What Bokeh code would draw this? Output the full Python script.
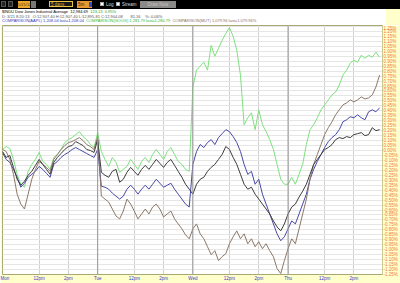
from bokeh.plotting import figure
from bokeh.models import ColumnDataSource, Range1d, FixedTicker, PrintfTickFormatter, Span, Div
from bokeh.layouts import column
from bokeh.embed import file_html
from bokeh.resources import INLINE

# 15-minute bars, Mon..Thu (26 bars per session)
bars = list(range(104))
day_start_bars = [26, 52, 78]
tick_bars = [0, 10, 18, 26, 36, 44, 52, 62, 70, 78, 88, 96]
tick_labels = ["Mon", "12pm", "2pm", "Tue", "12pm", "2pm", "Wed", "12pm", "2pm", "Thu", "12pm", "2pm"]
pct_ticks = [round(-1.25 + 0.05 * k, 2) for k in range(51)]

# % change series
indu = [-0.01, -0.07, -0.05, -0.17, -0.29, -0.35, -0.31, -0.25, -0.21, -0.15, -0.09, -0.14, -0.19, -0.24, -0.12, -0.07, -0.03, 0.01, 0.04, 0.05, 0.09, 0.07, 0.05, 0.01, 0.00, -0.02,
        0.11, -0.22, -0.25, -0.27, -0.21, -0.19, -0.32, -0.29, -0.22, -0.17, -0.21, -0.25, -0.19, -0.15, -0.19, -0.14, -0.09, -0.13, -0.17, -0.12, -0.09, -0.15, -0.21, -0.27, -0.34, -0.39,
        -0.44, -0.34, -0.29, -0.27, -0.21, -0.17, -0.14, -0.09, -0.04, 0.04, 0.01, -0.07, -0.14, -0.24, -0.34, -0.39, -0.37, -0.44, -0.49, -0.54, -0.59, -0.64, -0.71, -0.77, -0.81, -0.74,
        -0.64, -0.57, -0.54, -0.47, -0.41, -0.34, -0.24, -0.14, -0.09, -0.04, 0.01, 0.03, 0.06, 0.11, 0.13, 0.12, 0.14, 0.13, 0.16, 0.17, 0.18, 0.15, 0.16, 0.23, 0.20, 0.21]
aapl = [-0.02, -0.09, -0.12, -0.19, -0.27, -0.37, -0.33, -0.27, -0.24, -0.21, -0.16, -0.19, -0.23, -0.27, -0.14, -0.11, -0.07, -0.04, -0.02, 0.01, 0.03, 0.01, -0.01, -0.03, -0.05, -0.07,
        0.01, -0.36, -0.37, -0.39, -0.43, -0.46, -0.49, -0.46, -0.39, -0.35, -0.39, -0.44, -0.39, -0.35, -0.39, -0.34, -0.29, -0.33, -0.37, -0.35, -0.33, -0.39, -0.44, -0.49, -0.54, -0.57,
        -0.14, -0.01, 0.06, 0.03, 0.08, 0.11, 0.06, 0.13, 0.17, 0.21, 0.19, 0.14, 0.08, -0.01, -0.14, -0.24, -0.21, -0.34, -0.29, -0.44, -0.54, -0.64, -0.74, -0.84, -0.91, -0.87,
        -0.79, -0.71, -0.74, -0.64, -0.54, -0.44, -0.29, -0.19, -0.11, -0.04, 0.03, 0.09, 0.13, 0.16, 0.21, 0.29, 0.31, 0.34, 0.33, 0.36, 0.33, 0.31, 0.39, 0.41, 0.39, 0.43]
goog = [0.01, 0.04, 0.02, -0.09, -0.24, -0.34, -0.37, -0.21, -0.14, -0.09, -0.02, -0.11, -0.14, -0.19, -0.07, -0.04, 0.01, 0.08, 0.11, 0.13, 0.16, 0.19, 0.14, 0.11, 0.06, 0.03,
        0.18, -0.01, -0.09, -0.16, -0.07, -0.12, -0.22, -0.19, -0.16, -0.09, -0.14, -0.19, -0.11, -0.07, -0.12, -0.04, 0.01, -0.04, -0.09, -0.01, 0.03, -0.04, -0.11, -0.14, -0.19, -0.21,
        0.64, 0.81, 0.85, 0.89, 0.81, 1.06, 0.95, 1.03, 1.11, 1.18, 1.24, 1.15, 1.01, 0.76, 0.26, 0.33, 0.38, 0.21, 0.41, 0.26, 0.19, 0.11, 0.01, -0.14, -0.29, -0.34,
        -0.34, -0.27, -0.34, -0.24, -0.14, 0.06, 0.21, 0.26, 0.33, 0.41, 0.46, 0.51, 0.56, 0.59, 0.66, 0.76, 0.81, 0.88, 0.91, 0.89, 0.96, 0.93, 0.96, 0.94, 0.99, 0.94]
mut = [0.01, -0.01, -0.09, -0.24, -0.44, -0.54, -0.59, -0.44, -0.29, -0.19, -0.11, -0.14, -0.17, -0.21, -0.09, -0.04, 0.01, 0.05, 0.08, 0.09, 0.11, 0.13, 0.10, 0.06, 0.04, 0.01,
       0.14, -0.46, -0.49, -0.52, -0.59, -0.66, -0.69, -0.61, -0.49, -0.54, -0.61, -0.69, -0.64, -0.59, -0.64, -0.57, -0.54, -0.59, -0.67, -0.64, -0.61, -0.69, -0.74, -0.79, -0.85, -0.89,
       -0.79, -0.74, -0.84, -0.89, -0.97, -1.05, -1.01, -1.11, -1.07, -1.04, -0.94, -0.87, -0.81, -0.89, -0.84, -0.94, -0.89, -0.97, -0.92, -0.99, -0.94, -1.01, -1.07, -1.19, -1.24, -1.11,
       -0.99, -0.89, -0.94, -0.79, -0.64, -0.49, -0.29, -0.14, -0.04, 0.06, 0.16, 0.23, 0.29, 0.36, 0.41, 0.46, 0.48, 0.51, 0.49, 0.51, 0.54, 0.52, 0.53, 0.56, 0.64, 0.76]

src = ColumnDataSource(data=dict(t=bars, indu=indu, aapl=aapl, goog=goog, mut=mut))

p = figure(width=400, height=258, x_range=Range1d(0, 103.8), y_range=Range1d(-1.25, 1.26),
           output_backend="svg", toolbar_location=None, y_axis_location="right",
           min_border_left=2, min_border_top=0, min_border_right=0, min_border_bottom=0)
p.background_fill_color = "white"
p.border_fill_color = "#FFFFCC"
p.outline_line_color = "#A8A870"

p.xaxis.ticker = FixedTicker(ticks=tick_bars)
p.xaxis.major_label_overrides = {b: l for b, l in zip(tick_bars, tick_labels)}
p.xaxis.major_label_text_color = "#3838C8"
p.xaxis.major_label_text_font_size = "4.5px"
p.xaxis.major_label_text_font = "Liberation Sans"
p.xaxis.major_label_standoff = 1
p.xaxis.major_tick_out = 0
p.xaxis.major_tick_in = 0
p.xaxis.minor_tick_out = 0
p.xaxis.minor_tick_in = 0
p.xaxis.axis_line_color = None

p.yaxis.ticker = FixedTicker(ticks=pct_ticks)
p.yaxis.formatter = PrintfTickFormatter(format="%.2f%%")
p.yaxis.major_label_text_color = "#F07840"
p.yaxis.major_label_text_font_size = "4.5px"
p.yaxis.major_label_text_font = "Liberation Sans"
p.yaxis.major_label_standoff = 1
p.yaxis.major_tick_out = 0
p.yaxis.major_tick_in = 0
p.yaxis.minor_tick_out = 0
p.yaxis.minor_tick_in = 0
p.yaxis.axis_line_color = "#C8C890"

p.xgrid.ticker = FixedTicker(ticks=tick_bars)
p.xgrid.grid_line_color = "#D0D0D0"
p.ygrid.grid_line_color = "#E6E6E6"

for b in day_start_bars:
    p.add_layout(Span(location=b, dimension="height", line_color="#989898", line_width=1))

p.line("t", "goog", source=src, line_color="#7EE07E", line_width=1)
p.line("t", "aapl", source=src, line_color="#4848A8", line_width=1)
p.line("t", "mut", source=src, line_color="#8C7868", line_width=1)
p.line("t", "indu", source=src, line_color="#3C3C3C", line_width=1)

header_html = """
<div style="position:relative;width:400px;height:25px;overflow:hidden;background:linear-gradient(to right,#ffffff 386px,#FFFFCC 386px);font-family:'Liberation Sans',Arial,sans-serif;">
  <div style="position:absolute;left:0;top:0;width:400px;height:9px;background:#000;"></div>
  <div style="position:absolute;left:1px;top:1px;width:5px;height:6px;background:#222;border:1px solid #555;"></div>
  <div style="position:absolute;left:8px;top:1px;width:5px;height:6px;background:#222;border:1px solid #555;"></div>
  <div style="position:absolute;left:18px;top:1px;width:12px;height:7px;background:#E8A830;font-size:4px;line-height:7px;color:#553300;">5/21/12</div>
  <div style="position:absolute;left:31px;top:1px;width:5px;height:7px;background:#777;"></div>
  <div style="position:absolute;left:49px;top:1px;width:24px;height:6px;background:#1a1a1a;border:1px solid #E8C040;font-size:4.5px;line-height:6px;color:#F0A030;padding-left:1px;">5 days</div>
  <div style="position:absolute;left:77px;top:1px;width:15px;height:7px;background:#E89830;font-size:4.5px;line-height:7px;color:#402000;padding-left:1px;">5m</div>
  <div style="position:absolute;left:89px;top:2px;width:3px;height:5px;background:#3050C0;"></div>
  <div style="position:absolute;left:100px;top:2px;width:4px;height:4px;background:#fff;border:1px solid #aaa;"></div>
  <div style="position:absolute;left:106px;top:1px;font-size:4.5px;line-height:7px;color:#ddd;">Log</div>
  <div style="position:absolute;left:116px;top:2px;width:4px;height:4px;background:#fff;border:1px solid #aaa;"></div>
  <div style="position:absolute;left:122px;top:1px;font-size:4.5px;line-height:7px;color:#ddd;">Stream</div>
  <div style="position:absolute;left:140px;top:1px;width:36px;height:7px;background:#8a8a8a;font-size:4.5px;line-height:7px;color:#c8c8c8;text-align:center;">Draw Now</div>
  <div style="position:absolute;left:2px;top:10px;font-size:4px;line-height:4px;white-space:nowrap;color:#000;">$INDU Dow Jones Industrial Average&nbsp;&nbsp;12,984.69&nbsp;&nbsp;<span style="color:#1E9E1E;">123.13&nbsp;&nbsp;0.95%</span></div>
  <div style="position:absolute;left:2px;top:14.5px;font-size:4px;line-height:4px;white-space:nowrap;color:#555;">D: 3/21 8:20:13&nbsp;&nbsp;&nbsp;O:12,907.40&nbsp;H:12,907.40&nbsp;L:12,895.81&nbsp;C:12,904.08&nbsp;&nbsp;&nbsp;&nbsp;&nbsp;&nbsp;&nbsp;81.16&nbsp;&nbsp;&nbsp;&nbsp;%:-0.06%</div>
  <div style="position:absolute;left:2px;top:19px;font-size:4px;line-height:4px;white-space:nowrap;"><span style="color:#3838B8;">COMPARISON(AAPL) 1,208.04 last=1,208.04</span>&nbsp;&nbsp;<span style="color:#2EB82E;">COMPARISON(GOOG) 1,281.79 last=1,280.79</span>&nbsp;&nbsp;<span style="color:#8C7060;">COMPARISON(MUT) 1,079.96 last=1,079.96%</span></div>
</div>
"""
header = Div(text=header_html, width=400, height=25, margin=0)

layout = column(header, p, spacing=0, margin=0)
open("out.html", "w").write(file_html(layout, INLINE))
